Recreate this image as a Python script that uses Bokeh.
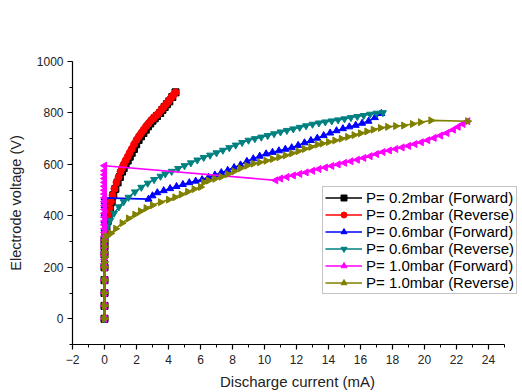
import math
from bokeh.plotting import figure
from bokeh.models import SingleIntervalTicker, Legend, LegendItem
from bokeh.embed import file_html
from bokeh.resources import INLINE

# ---- data ----
# P = 0.2 mbar, Forward
f02_x = [0, 0, 0, 0, 0, 0, 0, 0, 0.05, 0.12, 0.2, 0.28, 0.35, 0.45, 0.55, 0.68, 0.82, 0.96, 1.1, 1.2, 1.32, 1.45, 1.58, 1.7, 1.84, 1.98, 2.13, 2.28, 2.43, 2.58, 2.72, 2.86, 3.0, 3.14, 3.28, 3.48, 3.62, 3.76, 3.9, 4.05, 4.24, 4.44]
f02_y = [0, 50, 100, 150, 200, 250, 280, 305, 330, 355, 380, 405, 430, 455, 480, 505, 530, 551, 572, 586, 600, 615, 630, 645, 660, 678, 695, 709, 722, 735, 748, 759, 770, 779, 788, 800, 812, 823, 834, 845, 862, 880]
# P = 0.2 mbar, Reverse
r02_x = [4.44, 4.32, 4.2, 4.1, 4.0, 3.85, 3.7, 3.55, 3.4, 3.3, 3.2, 3.05, 2.9, 2.75, 2.6, 2.45, 2.3, 2.15, 2.0, 1.85, 1.7, 1.57, 1.45, 1.32, 1.2, 1.1, 1.0, 0.88, 0.75, 0.62, 0.5, 0.4, 0.3, 0.22, 0.15, 0.1, 0.05, 0, 0, 0, 0, 0, 0, 0, 0]
r02_y = [880, 871, 862, 854, 845, 834, 823, 812, 800, 794, 788, 779, 770, 759, 748, 735, 722, 709, 695, 678, 660, 645, 630, 615, 600, 586, 572, 551, 530, 505, 480, 455, 430, 405, 380, 355, 330, 305, 280, 250, 200, 150, 100, 50, 0]
# P = 0.6 mbar, Forward
f06_x = [0, 0, 0, 0, 0, 0, 0, 0, 0, 0, 0, 0, 0, 0, 0, 0, 0, 0, 0,
         2.75, 3.0, 3.3, 3.7, 4.1, 4.5, 4.9, 5.3, 5.7, 6.1, 6.5, 6.9, 7.3, 7.7, 8.1, 8.5, 8.9, 9.3, 9.7,
         10.1, 10.5, 10.9, 11.3, 11.7, 12.1, 12.5, 12.9, 13.3, 13.7, 14.1, 14.5, 14.9, 15.3, 15.7, 16.1,
         16.5, 16.9, 17.3]
f06_y = [0, 50, 100, 150, 200, 215, 230, 245, 260, 275, 290, 305, 320, 350, 380, 410, 440, 455, 470,
         465, 478, 490, 498, 506, 514, 522, 529, 535, 541, 550, 559, 568, 577, 588, 598, 612, 622, 632,
         641, 647, 653, 659, 665, 674, 684, 693, 702, 712, 722, 731, 739, 746, 752, 760,
         768, 782, 798]
# P = 0.6 mbar, Reverse
r06_x = [17.4, 17.0, 16.6, 16.2, 15.8, 15.4, 15.0, 14.6, 14.2, 13.8, 13.4, 13.0, 12.6, 12.2, 11.8, 11.4,
         11.0, 10.6, 10.2, 9.8, 9.4, 9.0, 8.6, 8.2, 7.8, 7.4, 7.0, 6.6, 6.2, 5.8, 5.4, 5.0, 4.6, 4.2,
         3.8, 3.5, 3.1, 2.7, 2.3, 1.9, 1.5, 1.2, 0.9, 0.6, 0.35, 0.15, 0.05,
         0, 0, 0, 0, 0, 0, 0, 0]
r06_y = [801, 799, 795, 790, 786, 782, 777, 773, 769, 765, 761, 756, 750, 744, 738, 732,
         726, 719, 712, 706, 700, 694, 685, 675, 665, 655, 645, 636, 627, 617, 606, 595, 584, 573,
         563, 554, 541, 527, 511, 493, 472, 455, 435, 410, 382, 357, 342,
         300, 250, 200, 150, 100, 50, 0, 0]
# P = 1.0 mbar, Forward
f10_x = [0, 0, 0, 0, 0, 0, 0, 0, 0, 0, 0, 0, 0, 0, 0, 0, 0, 0, 0, 0, 0, 0, 0, 0, 0, 0, 0, 0, 0, 0, 0,
         10.7, 11.0, 11.4, 11.8, 12.2, 12.6, 13.0, 13.4, 13.8, 14.2, 14.6, 15.0, 15.4, 15.8, 16.2, 16.6,
         17.0, 17.4, 17.8, 18.2, 18.6, 19.0, 19.4, 19.8, 20.2, 20.6, 21.0, 21.4, 21.8, 22.1, 22.4, 22.7]
f10_y = [0, 50, 100, 150, 200, 215, 230, 245, 260, 275, 290, 305, 320, 335, 350, 365, 380, 395, 410,
         425, 440, 455, 470, 485, 500, 515, 530, 545, 560, 575, 595,
         538, 545, 551, 557, 563, 569, 575, 582, 588, 594, 600, 606, 612, 618, 625, 632,
         640, 648, 654, 660, 666, 672, 679, 686, 694, 703, 712, 722, 735, 746, 757, 768]
# P = 1.0 mbar, Reverse
r10_x = [22.7, 20.4, 19.75, 19.25, 18.7, 18.2, 17.7, 17.25, 16.8, 16.4, 16.0, 15.6, 15.2, 14.8, 14.4,
         14.0, 13.6, 13.3, 12.9, 12.5, 12.1, 11.7, 11.3, 10.9, 10.5, 10.1, 9.7, 9.3, 8.9, 8.5, 8.1,
         7.7, 7.3, 6.9, 6.5, 6.2, 6.0, 5.6, 5.2, 4.8, 4.4, 4.0, 3.5, 3.0, 2.6, 2.25, 1.9, 1.5, 1.1,
         0.7, 0.4, 0.15, 0.05, 0, 0, 0, 0, 0, 0, 0, 0, 0, 0, 0]
r10_y = [768, 771, 764, 757, 751, 749, 746, 742, 735, 728, 721, 714, 707, 700, 693,
         687, 681, 677, 668, 660, 651, 643, 635, 628, 621, 614, 608, 603, 595, 585, 573,
         562, 552, 544, 537, 530, 512, 504, 494, 483, 472, 463, 453, 441, 430, 418, 405, 390, 372,
         350, 332, 322, 318, 300, 280, 260, 240, 220, 200, 150, 100, 50, 0]

labels = ["P= 0.2mbar (Forward)", "P= 0.2mbar (Reverse)", "P= 0.6mbar (Forward)",
          "P= 0.6mbar (Reverse)", "P= 1.0mbar (Forward)", "P= 1.0mbar (Reverse)"]
colors = ["#000000", "#FF0000", "#0000FF", "#008080", "#FF00FF", "#808000"]
markers = ["square", "circle", "triangle", "inverted_triangle", "triangle", "triangle"]
angles = [0, 0, 0, 0, math.pi / 2, -math.pi / 2]
series = [(f02_x, f02_y), (r02_x, r02_y), (f06_x, f06_y), (r06_x, r06_y), (f10_x, f10_y), (r10_x, r10_y)]

FONT = "Liberation Sans"

p = figure(width=522, height=392, x_range=(-2, 26.125), y_range=(-100, 1000),
           output_backend="svg", toolbar_location=None,
           min_border_left=72, min_border_top=61, min_border_right=0, min_border_bottom=46)
p.outline_line_color = None
p.xgrid.visible = False
p.ygrid.visible = False

items = []
for (xs, ys), lab, c, m, a in zip(series, labels, colors, markers, angles):
    ln = p.line(xs, ys, line_color=c, line_width=1.6)
    sc = p.scatter(xs, ys, marker=m, size=7, angle=a, fill_color=c, line_color=c)
    items.append(LegendItem(label=lab, renderers=[ln, sc]))

p.xaxis.ticker = SingleIntervalTicker(interval=2, num_minor_ticks=2)
p.yaxis.ticker = SingleIntervalTicker(interval=200, num_minor_ticks=2)
p.xaxis.bounds = (-2, 25)
for ax in (p.xaxis[0], p.yaxis[0]):
    ax.axis_line_width = 1.2
    ax.axis_line_color = "#000000"
    ax.major_tick_out = 5
    ax.major_tick_in = 0
    ax.minor_tick_out = 3
    ax.minor_tick_in = 0
    ax.major_tick_line_width = 1.2
    ax.minor_tick_line_width = 1.0
    ax.major_label_text_font = FONT
    ax.major_label_text_font_size = "12px"
    ax.major_label_text_color = "#222222"
    ax.axis_label_text_font = FONT
    ax.axis_label_text_font_style = "normal"
    ax.axis_label_text_color = "#222222"

p.xaxis.major_label_standoff = 5
p.yaxis.major_label_standoff = 4
p.xaxis.axis_label = "Discharge current (mA)"
p.xaxis.axis_label_text_font_size = "15px"
p.xaxis.axis_label_standoff = 6
p.yaxis.axis_label = "Electrode voltage (V)"
p.yaxis.axis_label_text_font_size = "14.5px"
p.yaxis.axis_label_standoff = 10

legend = Legend(items=items, location=(250, 50))
legend.label_text_font = FONT
legend.label_text_font_size = "15px"
legend.label_text_color = "#000000"
legend.glyph_width = 37
legend.glyph_height = 15
legend.label_height = 15
legend.label_standoff = 4
legend.spacing = 0
legend.padding = 2
legend.margin = 0
legend.border_line_color = "#888888"
legend.border_line_width = 1
legend.background_fill_alpha = 1.0
p.add_layout(legend, "center")

open("out.html", "w").write(file_html(p, INLINE))
